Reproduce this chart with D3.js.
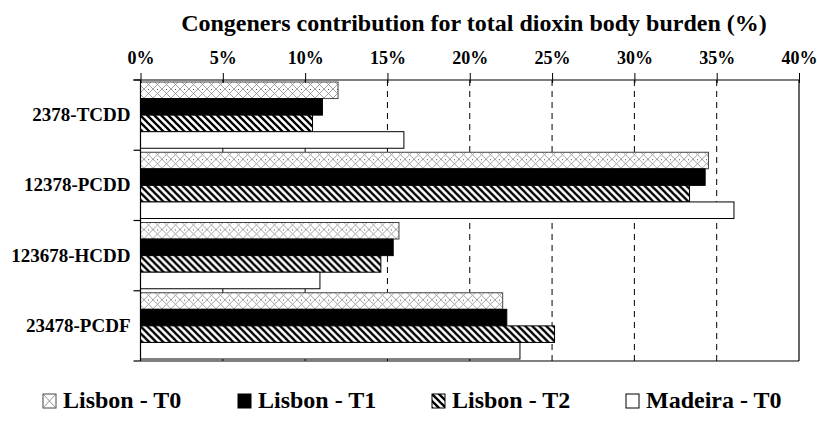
<!DOCTYPE html>
<html>
<head>
<meta charset="utf-8">
<script src="https://cdn.jsdelivr.net/npm/d3@7/dist/d3.min.js"></script>
<style>
  body { margin: 0; background: #fff; }
  text { font-family: "Liberation Serif", "Times New Roman", serif; font-weight: bold; fill: #000; }
</style>
</head>
<body>
<div id="chart"></div>
<script>
const categories = ["2378-TCDD", "12378-PCDD", "123678-HCDD", "23478-PCDF"];
const seriesNames = ["Lisbon - T0", "Lisbon - T1", "Lisbon - T2", "Madeira - T0"];
const lisbonT0 = [12.0, 34.5, 15.7, 22.0];
const lisbonT1 = [11.05, 34.3, 15.35, 22.25];
const lisbonT2 = [10.45, 33.35, 14.6, 25.15];
const madeiraT0 = [16.0, 36.05, 10.9, 23.05];
const tickValues = [0, 5, 10, 15, 20, 25, 30, 35, 40];

const W = 817, H = 422;
const plotL = 140.5, plotR = 799, plotT = 80, plotB = 361;

const svg = d3.select("#chart").append("svg")
  .attr("width", W).attr("height", H);

// patterns
const defs = svg.append("defs");
const cross = defs.append("pattern").attr("id", "cross")
  .attr("patternUnits", "userSpaceOnUse").attr("width", 9).attr("height", 9);
cross.append("rect").attr("width", 9).attr("height", 9).attr("fill", "#fff");
cross.append("path").attr("d", "M0,0 L9,9 M9,0 L0,9")
  .attr("stroke", "#8a8a8a").attr("stroke-width", 0.8);
cross.append("rect").attr("x", 4).attr("y", 0).attr("width", 1).attr("height", 1).attr("fill", "#555");

const hatch = defs.append("pattern").attr("id", "hatch")
  .attr("patternUnits", "userSpaceOnUse").attr("width", 7).attr("height", 7);
hatch.append("rect").attr("width", 7).attr("height", 7).attr("fill", "#fff");
hatch.append("path").attr("d", "M-2,-2 L9,9 M-2,5 L2,9 M5,-2 L9,2")
  .attr("stroke", "#000").attr("stroke-width", 2.3);

const fills = ["url(#cross)", "#000", "url(#hatch)", "#fff"];
const strokes = ["#444", "#000", "#000", "#000"];
const series = [lisbonT0, lisbonT1, lisbonT2, madeiraT0];

const x = d3.scaleLinear().domain([0, 40]).range([plotL, plotR]);
const y = d3.scaleBand().domain(categories).range([plotT, plotB]);
const yi = d3.scaleBand().domain(seriesNames).range([2, y.bandwidth() - 2]);

// dashed gridlines
svg.append("g").selectAll("line")
  .data(tickValues.slice(1, -1))
  .join("line")
  .attr("x1", d => x(d)).attr("x2", d => x(d))
  .attr("y1", plotT).attr("y2", plotB)
  .attr("stroke", "#000").attr("stroke-width", 1)
  .attr("stroke-dasharray", "6,5");

// bars
const rows = categories.map((c, i) => ({ cat: c, vals: series.map((s, k) => ({ name: seriesNames[k], k: k, v: s[i] })) }));
const grp = svg.append("g").selectAll("g")
  .data(rows)
  .join("g")
  .attr("transform", d => "translate(0," + y(d.cat) + ")");
grp.selectAll("rect")
  .data(d => d.vals)
  .join("rect")
  .attr("x", x(0))
  .attr("y", d => yi(d.name))
  .attr("width", d => x(d.v) - x(0))
  .attr("height", yi.bandwidth())
  .attr("fill", d => fills[d.k])
  .attr("stroke", d => strokes[d.k])
  .attr("stroke-width", 1);

// frame
svg.append("line").attr("x1", plotR).attr("x2", plotR).attr("y1", plotT).attr("y2", plotB)
  .attr("stroke", "#000").attr("stroke-width", 1.2);
svg.append("line").attr("x1", plotL).attr("x2", plotR).attr("y1", plotB).attr("y2", plotB)
  .attr("stroke", "#000").attr("stroke-width", 1.2);

// top axis
const xAxis = svg.append("g")
  .attr("transform", "translate(0," + plotT + ")")
  .call(d3.axisTop(x).tickValues(tickValues).tickFormat(d => d + "%").tickSizeInner(7).tickSizeOuter(0).tickPadding(9));
xAxis.select(".domain").attr("d", "M" + (plotL - 7) + ",0H" + plotR).attr("stroke-width", 1.2);
xAxis.selectAll(".tick line").attr("y2", -7).attr("y1", 3);
xAxis.selectAll("text").style("font-size", "18px").attr("font-family", null);

// left axis
svg.append("line").attr("x1", plotL).attr("x2", plotL).attr("y1", plotT).attr("y2", plotB)
  .attr("stroke", "#000").attr("stroke-width", 1.2);
svg.append("g").selectAll("line")
  .data(categories.map(c => y(c)).concat([plotB]))
  .join("line")
  .attr("x1", plotL - 7).attr("x2", plotL)
  .attr("y1", d => d).attr("y2", d => d)
  .attr("stroke", "#000").attr("stroke-width", 1.2);
const yAxis = svg.append("g")
  .attr("transform", "translate(" + plotL + ",0)")
  .call(d3.axisLeft(y).tickSize(0).tickPadding(10));
yAxis.select(".domain").remove();
yAxis.selectAll("text").style("font-size", "19px").attr("font-family", null);

// title
svg.append("text")
  .attr("x", 474).attr("y", 31)
  .attr("text-anchor", "middle")
  .style("font-size", "24px")
  .text("Congeners contribution for total dioxin body burden (%)");

// legend
const legX = [43, 238, 432, 626];
const leg = svg.append("g").selectAll("g")
  .data(seriesNames)
  .join("g")
  .attr("transform", (d, i) => "translate(" + legX[i] + ",394)");
leg.append("rect")
  .attr("width", 13).attr("height", 14)
  .attr("fill", (d, i) => i === 0 ? "#fff" : fills[i])
  .attr("stroke", (d, i) => strokes[i]).attr("stroke-width", 1);
leg.filter((d, i) => i === 0).append("path")
  .attr("d", "M0,0 L13,14 M13,0 L0,14")
  .attr("stroke", "#777").attr("stroke-width", 0.8);
leg.append("text")
  .attr("x", 20).attr("y", 14)
  .style("font-size", "24px")
  .text(d => d);
</script>
</body>
</html>
